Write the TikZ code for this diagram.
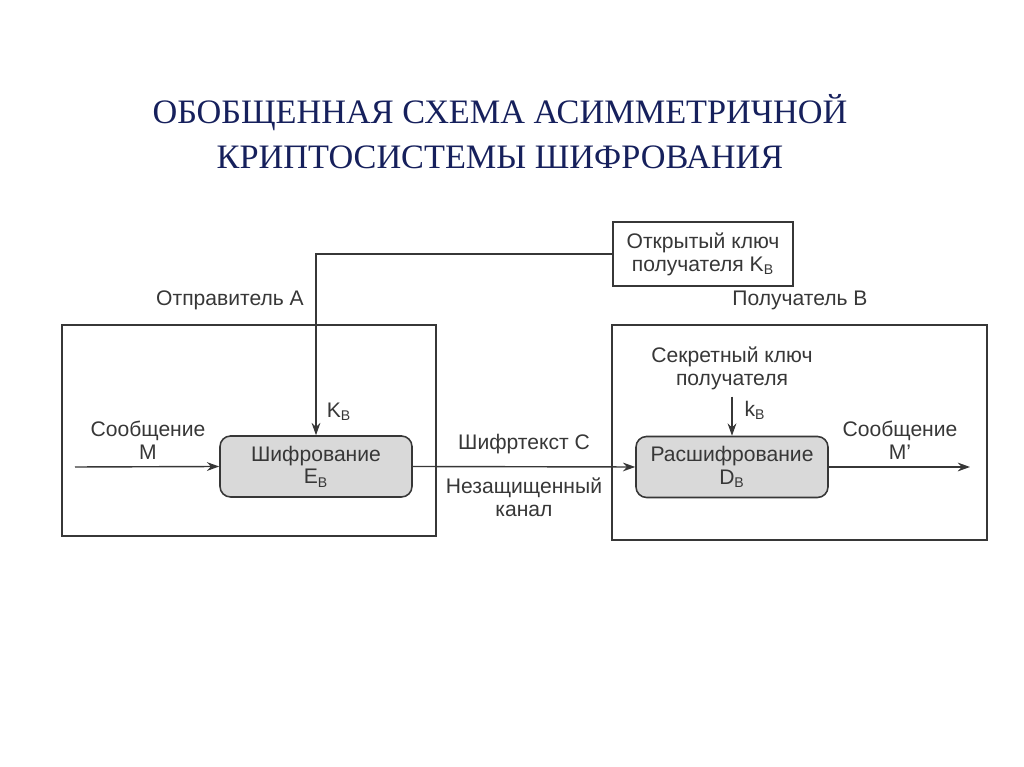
\documentclass[tikz,border=0pt]{standalone}
\usepackage{fontspec}
\setmainfont{Liberation Serif}
\setsansfont{Liberation Sans}
\usetikzlibrary{arrows.meta, positioning, calc}
\definecolor{titleblue}{RGB}{22,32,92}
\definecolor{inkgray}{RGB}{55,55,55}

\begin{document}
\begin{tikzpicture}[
    font=\sffamily\fontsize{12pt}{13pt}\selectfont,
    color=inkgray,
    party/.style={draw, line width=0.8pt, minimum width=7.48cm, minimum height=4.22cm},
    keybox/.style={draw, line width=0.8pt, align=center, minimum width=3.6cm, minimum height=1.28cm},
    proc/.style={draw, line width=0.9pt, rounded corners=6pt, fill=gray!30, align=center, minimum width=3.84cm, minimum height=1.22cm, inner sep=1pt},
    txt/.style={align=center, inner sep=1pt},
    ttl/.style={font=\rmfamily\fontsize{19.5pt}{25.5pt}\selectfont, text=titleblue, align=center},
    fl/.style={-{Stealth[length=7pt, width=5pt]}, line width=0.8pt},
    ln/.style={line width=0.8pt}
]
\useasboundingbox (0,0) rectangle (20.48,-15.34);

% ===== TITOLO =====
\node[ttl] (TITLE) at (10.0,-2.64) {ОБОБЩЕННАЯ СХЕМА АСИММЕТРИЧНОЙ\\КРИПТОСИСТЕМЫ ШИФРОВАНИЯ};

% ===== RIQUADRI MITTENTE / DESTINATARIO =====
\node[party] (SENDER) at (4.98,-8.61) {};
\node[party, minimum width=7.5cm, minimum height=4.3cm] (RECV) at (15.99,-8.65) {};
\node[txt] (SLBL) at (4.6,-6.0) {Отправитель А};
\node[txt] (RLBL) at (16.0,-6.0) {Получатель В};

% ===== CHIAVE PUBBLICA =====
\node[keybox] (PUB) at (14.06,-5.08) {Открытый ключ\\получателя K\textsubscript{B}};

% ===== CIFRATURA / DECIFRATURA =====
\node[proc] (ENC) at (6.32,-9.33) {Шифрование\\E\textsubscript{B}};
\node[proc] (DEC) at (14.64,-9.34) {Расшифрование\\D\textsubscript{B}};
\node[txt] (SEC) at (14.64,-7.36) {Секретный ключ\\получателя};

\coordinate (MIN) at (1.5,-9.34);
\coordinate (MOUT) at (19.4,-9.34);

\draw[fl] (PUB.west) -| (ENC.north);
\draw[fl] (MIN) -- (ENC.west);
\draw[fl] (ENC.east) -- (DEC.west);
\draw[fl] ([yshift=-0.1cm]SEC.south) -- (DEC.north);
\draw[fl] (DEC.east) -- (MOUT);

% etichette
\node[txt] (MSGIN) at (2.96,-8.8) {Сообщение\\М};
\node[txt] (MSGOUT) at (18.0,-8.8) {Сообщение\\М'};
\node[txt] (CT) at (10.48,-8.88) {Шифртекст С};
\node[txt] (CHAN) at (10.48,-9.94) {Незащищенный\\канал};
\node[txt] (KPUB) at (6.78,-8.24) {K\textsubscript{B}};
\node[txt] (KSEC) at (15.1,-8.2) {k\textsubscript{B}};

\end{tikzpicture}
\end{document}
